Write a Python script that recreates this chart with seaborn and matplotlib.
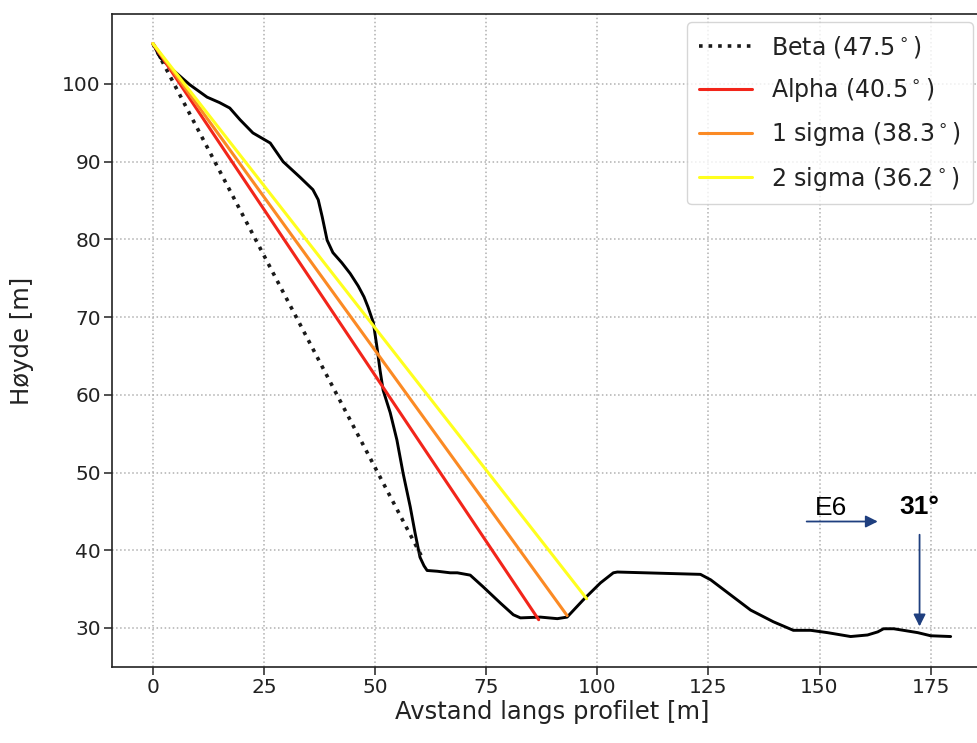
import numpy as np
import pandas as pd
import matplotlib
matplotlib.use("Agg")
import matplotlib.pyplot as plt
import seaborn as sns

# Terrain profile along the section line (distance [m], elevation [m])
profile_x = [0.0, 1.6, 4.5, 8.3, 12.2, 15.0, 17.3, 19.6, 22.5, 26.4, 29.3, 33.1,
             36.0, 37.2, 38.1, 39.2, 40.5, 42.5, 44.4, 46.2, 47.5, 48.4, 49.6,
             50.4, 51.1, 51.8, 53.4, 54.9, 56.3, 57.9, 59.0, 60.1, 61.0, 61.7,
             64.0, 66.9, 68.5, 71.4, 74.3, 78.2, 81.1, 82.7, 87.2, 91.0, 93.2,
             96.8, 100.7, 103.6, 104.5, 123.2, 125.5, 134.5, 139.6, 144.1,
             148.0, 151.8, 157.0, 160.8, 163.1, 164.4, 166.7, 172.1, 175.0,
             179.5]
profile_y = [105.2, 103.4, 101.8, 99.9, 98.3, 97.6, 96.9, 95.4, 93.7, 92.4, 90.0,
             88.0, 86.4, 85.1, 82.9, 79.9, 78.3, 77.0, 75.6, 74.0, 72.6, 71.3,
             69.3, 66.2, 63.2, 60.6, 57.7, 54.2, 49.9, 45.6, 42.2, 39.1, 38.0,
             37.4, 37.3, 37.1, 37.1, 36.8, 35.3, 33.2, 31.7, 31.3, 31.4, 31.2,
             31.4, 33.6, 35.8, 37.1, 37.2, 36.9, 36.2, 32.3, 30.8, 29.7, 29.7,
             29.4, 28.9, 29.1, 29.5, 29.9, 29.9, 29.4, 29.0, 28.9]

# Runout lines: name, angle [deg], runout distance [m]
line_names = ["Beta", "Alpha", "1 sigma", "2 sigma"]
line_angles = [47.5, 40.5, 38.3, 36.2]
line_runout = [60.5, 86.8, 93.2, 97.6]
line_colors = ["#1a1a1a", "#f2251a", "#fb8a24", "#ffff1e"]
line_styles = [":", "-", "-", "-"]
start_x, start_y = 0.0, 105.2

sns.set_theme(style="ticks")
plt.rcParams["font.family"] = ["DejaVu Sans"]

W, H = 978, 743
fig = plt.figure(figsize=(W / 100, H / 100), dpi=100)
# axes run slightly past the right edge of the canvas
ax = fig.add_axes([112 / W, 1 - 667 / H, 880 / W, (667 - 14) / H])

ax.grid(True, linestyle=":", color="#b0b0b0", linewidth=1.1)
ax.set_axisbelow(True)

prof = pd.DataFrame({"x": profile_x, "y": profile_y})
sns.lineplot(data=prof, x="x", y="y", sort=False, color="black", lw=2.1,
             ax=ax, legend=False, zorder=3)

for name, ang, run, col, ls in zip(line_names, line_angles, line_runout,
                                   line_colors, line_styles):
    end_y = start_y - np.tan(np.radians(ang)) * run
    seg = pd.DataFrame({"x": [start_x, run], "y": [start_y, end_y]})
    sns.lineplot(data=seg, x="x", y="y", color=col, linestyle=ls,
                 lw=2.6 if ls == ":" else 2.2, ax=ax,
                 label=f"{name} ({ang}$^\\circ$)", zorder=4)

ax.set_xlim(-9.2, 188.8)
ax.set_ylim(24.98, 109.0)
ax.set_xticks([0, 25, 50, 75, 100, 125, 150, 175])
ax.set_yticks([30, 40, 50, 60, 70, 80, 90, 100])
ax.tick_params(labelsize=14.5, length=6, width=1.1, pad=2, colors="#222222")
ax.set_xlabel("Avstand langs profilet [m]", fontsize=17.5, color="#222222")
ax.set_ylabel("Høyde [m]", fontsize=17.5, color="#222222")
ax.xaxis.set_label_coords(0.5, -(700 - 667) / 653)
ax.yaxis.set_label_coords(-(112 - 34) / 880, 0.5)
for sp in ax.spines.values():
    sp.set_color("#222222")
    sp.set_linewidth(1.2)

leg = ax.legend(loc="upper right", fontsize=17, frameon=True,
                handlelength=2.25, handletextpad=0.8, borderpad=0.5,
                labelspacing=0.69, borderaxespad=0,
                bbox_to_anchor=(973 / W, 1 - 22 / H),
                bbox_transform=fig.transFigure)
leg.get_frame().set_edgecolor("#cccccc")
for t in leg.get_texts():
    t.set_color("#222222")

# Road marker and slope annotation
arrow_col = "#1f3f7f"
ax.annotate("", xy=(163.1, 43.7), xytext=(147.1, 43.7),
            arrowprops=dict(arrowstyle="-|>", color=arrow_col, lw=1.3,
                            mutation_scale=18, shrinkA=0, shrinkB=0))
ax.text(152.5, 44.5, "E6", fontsize=19, family="Liberation Sans",
        ha="center", va="baseline", color="black")
ax.annotate("", xy=(172.5, 30.2), xytext=(172.5, 42.0),
            arrowprops=dict(arrowstyle="-|>", color=arrow_col, lw=1.3,
                            mutation_scale=18, shrinkA=0, shrinkB=0))
ax.text(172.5, 44.7, "31°", fontsize=19, family="Liberation Sans",
        fontweight="bold", ha="center", va="baseline", color="black")

fig.savefig("out.png", dpi=100)
